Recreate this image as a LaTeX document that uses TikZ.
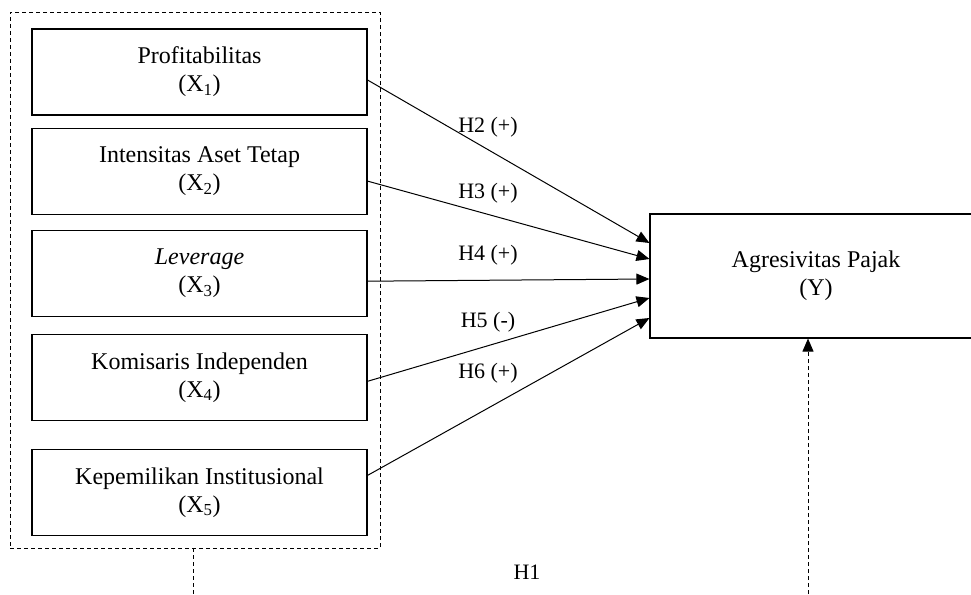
\documentclass[tikz,border=0pt]{standalone}
\usepackage{fontspec}
\setmainfont{Liberation Serif}
\usepackage{xcolor}
\usetikzlibrary{positioning, arrows.meta}

\tikzset{
  varbox/.style={rectangle, draw, line width=1.1pt, minimum width=335pt, minimum height=86pt, align=center, font=\fontsize{24}{28}\selectfont},
  hyplabel/.style={font=\fontsize{22}{26}\selectfont},
  hyparrow/.style={-{Triangle[length=13pt,width=11pt]}, line width=1pt},
}

\begin{document}
\begin{tikzpicture}[x=1pt, y=-1pt]
        \useasboundingbox (0,0) rectangle (971,594);
        % Independent variables
        \node[varbox] (x1) at (199.5,72) {Profitabilitas\\(X\textsubscript{1})};
        \node[varbox, below=12pt of x1] (x2) {Intensitas Aset Tetap\\(X\textsubscript{2})};
        \node[varbox, below=15pt of x2] (x3) {\textit{Leverage}\\(X\textsubscript{3})};
        \node[varbox, below=17pt of x3] (x4) {Komisaris Independen\\(X\textsubscript{4})};
        \node[varbox, below=28pt of x4] (x5) {Kepemilikan Institusional\\(X\textsubscript{5})};
        % Group of independent variables
        \node[rectangle, draw, dashed, dash pattern=on 4pt off 3pt, line width=0.9pt, minimum width=370pt, minimum height=536pt] (group) at (195,280) {};
        % Dependent variable
        \node[varbox, minimum width=332pt, minimum height=124pt] (y) at (816,276) {Agresivitas Pajak\\(Y)};
        % Arrows to Y
        \draw[hyparrow] ([yshift=-8pt]x1.east) -- ([yshift=33pt]y.west);
        \draw[hyparrow] ([yshift=-10pt]x2.east) -- ([yshift=17pt]y.west);
        \draw[hyparrow] ([yshift=-8pt]x3.east) -- ([yshift=-3pt]y.west);
        \draw[hyparrow] ([yshift=-4pt]x4.east) -- ([yshift=-22pt]y.west);
        \draw[hyparrow] ([yshift=17pt]x5.east) -- ([yshift=-42pt]y.west);
        % Hypothesis labels
        \node[hyplabel] (h2) at (488,127) {H2 (+)};
        \node[hyplabel] (h3) at (488,193) {H3 (+)};
        \node[hyplabel] (h4) at (488,255) {H4 (+)};
        \node[hyplabel] (h5) at (488,322) {H5 (-)};
        \node[hyplabel] (h6) at (488,373) {H6 (+)};
        % Simultaneous effect H1
        \coordinate (h1from) at (193,594);
        \coordinate (h1to) at (808,594);
        \draw[dashed, dash pattern=on 4pt off 3pt, line width=0.9pt] ([xshift=-2pt]group.south) -- (h1from);
        \draw[hyparrow, dash pattern=on 4pt off 3pt, line width=0.9pt] (h1to) -- (h1to |- y.south);
        \node[hyplabel] (h1) at (527,572) {H1};
    \end{tikzpicture}
\end{document}
